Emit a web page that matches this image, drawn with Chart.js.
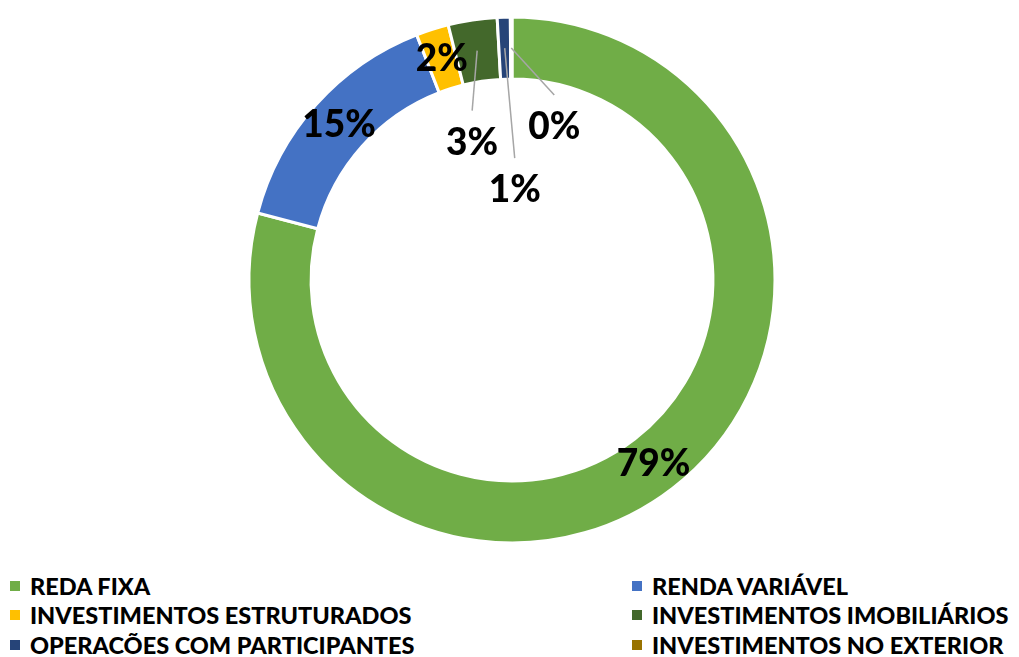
<!DOCTYPE html>
<html>
<head>
<meta charset="utf-8">
<script src="https://cdn.jsdelivr.net/npm/chart.js@4.4.1/dist/chart.umd.min.js"></script>
<style>
  html, body { margin: 0; padding: 0; background: #fff; }
  #wrap { position: relative; width: 1019px; height: 560px; }
  #legend {
    position: absolute; top: 571px; left: 0; width: 1019px;
    display: grid; grid-template-columns: 622px 397px; row-gap: 0;
    font-family: Lato, sans-serif; font-weight: 900; font-size: 23.5px; color: #000;
  }
  .item { display: flex; align-items: center; height: 29.5px; white-space: nowrap; }
  .box { width: 10px; height: 10px; margin-left: 10px; margin-right: 10px; flex: none; }
</style>
</head>
<body>
<div id="wrap"><canvas id="pieChart"></canvas></div>
<div id="legend"></div>
<script>
// categorias e valores (%)
const categorias = [
    'REDA FIXA',
    'RENDA VARIÁVEL',
    'INVESTIMENTOS ESTRUTURADOS',
    'INVESTIMENTOS IMOBILIÁRIOS',
    'OPERACÕES COM PARTICIPANTES',
    'INVESTIMENTOS NO EXTERIOR'
];
const valores = [79.1, 15.0, 2.0, 3.0, 0.8, 0.1];
const rotulos = ['79%', '15%', '2%', '3%', '1%', '0%'];
const cores = ['#70AD47', '#4472C4', '#FFC000', '#43682B', '#264478', '#997300'];

// deslocamento dos rótulos pequenos (com linha de chamada)
const deslocRotulo = [null, null, null, { dx: -5, dy: 92 }, { dx: 10, dy: 142 }, { dx: 43, dy: 79 }];

const rotuloPlugin = {
    id: 'rotulos',
    afterDatasetsDraw(chart) {
        const ctx = chart.ctx;
        const arcs = chart.getDatasetMeta(0).data;
        ctx.save();
        ctx.font = '900 37px Lato, sans-serif';
        ctx.textAlign = 'center';
        ctx.textBaseline = 'middle';
        arcs.forEach((arc, i) => {
            const p = arc.tooltipPosition();
            const off = deslocRotulo[i];
            let x = p.x, y = p.y;
            if (off) {
                x += off.dx; y += off.dy;
                ctx.strokeStyle = '#A6A6A6';
                ctx.lineWidth = 1.5;
                ctx.beginPath();
                ctx.moveTo(p.x, p.y);
                ctx.lineTo(x, y - 32);
                ctx.stroke();
            }
            ctx.fillStyle = '#000';
            ctx.fillText(rotulos[i], x, y);
        });
        ctx.restore();
    }
};

new Chart(document.getElementById('pieChart').getContext('2d'), {
    type: 'doughnut',
    data: {
        labels: categorias,
        datasets: [{
            data: valores,
            backgroundColor: cores,
            borderColor: '#ffffff',
            borderWidth: 3
        }]
    },
    options: {
        responsive: true,
        maintainAspectRatio: false,
        animation: false,
        cutout: '76.4%',
        layout: { padding: { top: 15.5, bottom: 15.5, left: 5, right: 0 } },
        plugins: {
            legend: { display: false },
            tooltip: { enabled: false }
        }
    },
    plugins: [rotuloPlugin]
});

// legenda em duas colunas
const legend = document.getElementById('legend');
categorias.forEach((nome, i) => {
    const item = document.createElement('div');
    item.className = 'item';
    item.innerHTML = '<span class="box" style="background:' + cores[i] + '"></span><span>' + nome + '</span>';
    legend.appendChild(item);
});
</script>
</body>
</html>
